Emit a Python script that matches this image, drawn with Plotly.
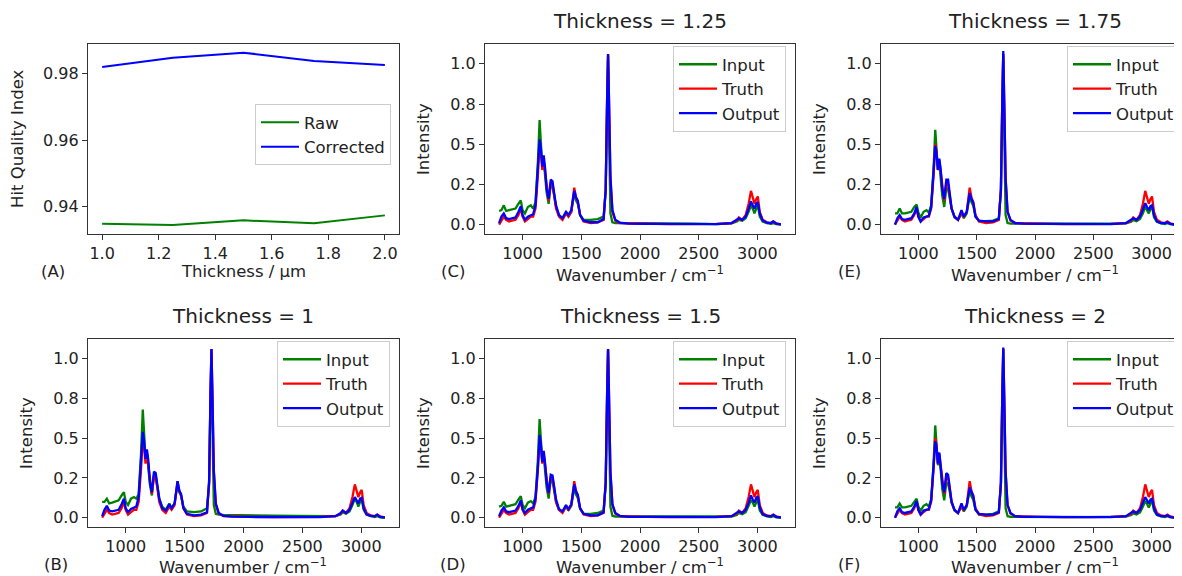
import plotly.graph_objects as go

W, H = 1182, 576
FONT = "DejaVu Sans"

# panel (A): hit quality index vs thickness
thickness = [1.0, 1.25, 1.5, 1.75, 2.0]
hqi_raw = [0.9349, 0.9345, 0.9359, 0.9350, 0.9374]
hqi_corrected = [0.9820, 0.9848, 0.9863, 0.9838, 0.9826]

# spectra
wavenumber = [800, 820, 840, 860, 885, 910, 940, 965, 985, 1000,
              1020, 1045, 1070, 1090, 1110, 1130, 1145, 1155, 1168, 1180,
              1192, 1205, 1222, 1240, 1255, 1268, 1285, 1310, 1340, 1370,
              1390, 1415, 1440, 1455, 1470, 1490, 1520, 1580, 1640, 1690,
              1708, 1720, 1728, 1736, 1748, 1765, 1790, 1830, 1900, 2050,
              2250, 2450, 2650, 2780, 2825, 2842, 2870, 2900, 2925, 2945,
              2960, 2975, 2990, 3003, 3020, 3045, 3080, 3115, 3135, 3160,
              3200]

truth = [0.00, 0.03, 0.05, 0.03, 0.02, 0.025, 0.03, 0.06, 0.10, 0.05,
         0.02, 0.035, 0.05, 0.05, 0.10, 0.30, 0.50, 0.46, 0.34, 0.40,
         0.33, 0.22, 0.15, 0.26, 0.25, 0.19, 0.10, 0.05, 0.03, 0.07,
         0.05, 0.08, 0.23, 0.17, 0.14, 0.06, 0.02, 0.01, 0.015, 0.03,
         0.22, 0.78, 1.06, 0.78, 0.29, 0.08, 0.025, 0.01, 0.008, 0.006,
         0.004, 0.004, 0.005, 0.01, 0.025, 0.045, 0.03, 0.06, 0.13, 0.21,
         0.17, 0.13, 0.16, 0.175, 0.08, 0.03, 0.015, 0.01, 0.02, 0.008,
         0.002]

input_t1 = [0.10, 0.10, 0.12, 0.09, 0.095, 0.10, 0.11, 0.14, 0.16, 0.10,
            0.08, 0.12, 0.13, 0.12, 0.15, 0.40, 0.68, 0.55, 0.37, 0.41,
            0.33, 0.21, 0.14, 0.27, 0.26, 0.20, 0.12, 0.07, 0.05, 0.09,
            0.06, 0.09, 0.21, 0.16, 0.14, 0.07, 0.04, 0.035, 0.04, 0.06,
            0.21, 0.77, 1.05, 0.60, 0.08, 0.025, 0.02, 0.018, 0.018, 0.016,
            0.014, 0.012, 0.008, 0.01, 0.02, 0.035, 0.025, 0.04, 0.08, 0.12,
            0.10, 0.07, 0.10, 0.12, 0.05, 0.02, 0.01, 0.005, 0.01, 0.003,
            0.0]
output_t1 = [0.01, 0.05, 0.075, 0.045, 0.04, 0.045, 0.05, 0.085, 0.12, 0.06,
             0.035, 0.055, 0.065, 0.07, 0.13, 0.33, 0.54, 0.49, 0.37, 0.43,
             0.36, 0.23, 0.16, 0.29, 0.28, 0.21, 0.12, 0.06, 0.045, 0.085,
             0.06, 0.09, 0.23, 0.17, 0.15, 0.06, 0.025, 0.015, 0.02, 0.035,
             0.23, 0.79, 1.06, 0.78, 0.30, 0.09, 0.03, 0.012, 0.007, 0.005,
             0.005, 0.006, 0.004, 0.01, 0.03, 0.045, 0.03, 0.05, 0.095, 0.13,
             0.11, 0.09, 0.12, 0.125, 0.06, 0.02, 0.012, 0.01, 0.02, 0.006,
             0.002]

input_t125 = [0.085, 0.09, 0.12, 0.085, 0.09, 0.095, 0.10, 0.13, 0.15, 0.09,
              0.07, 0.11, 0.12, 0.10, 0.14, 0.38, 0.65, 0.52, 0.36, 0.40,
              0.32, 0.20, 0.13, 0.25, 0.24, 0.19, 0.11, 0.06, 0.04, 0.08,
              0.05, 0.08, 0.20, 0.15, 0.13, 0.06, 0.03, 0.03, 0.035, 0.05,
              0.21, 0.77, 1.05, 0.60, 0.07, 0.015, 0.01, 0.01, 0.01, 0.01,
              0.008, 0.006, 0.004, 0.008, 0.02, 0.03, 0.025, 0.04, 0.08, 0.12,
              0.10, 0.07, 0.10, 0.12, 0.05, 0.02, 0.01, 0.005, 0.01, 0.003,
              0.0]
output_t125 = [0.01, 0.05, 0.07, 0.04, 0.035, 0.04, 0.045, 0.08, 0.115, 0.06,
               0.03, 0.05, 0.06, 0.065, 0.12, 0.32, 0.53, 0.48, 0.36, 0.43,
               0.35, 0.22, 0.16, 0.28, 0.27, 0.20, 0.12, 0.06, 0.04, 0.08,
               0.06, 0.09, 0.21, 0.17, 0.15, 0.06, 0.025, 0.015, 0.015, 0.035,
               0.22, 0.78, 1.06, 0.78, 0.30, 0.09, 0.03, 0.012, 0.006, 0.005,
               0.004, 0.006, 0.004, 0.01, 0.03, 0.04, 0.03, 0.05, 0.10, 0.145,
               0.12, 0.10, 0.13, 0.14, 0.07, 0.025, 0.012, 0.01, 0.02, 0.007,
               0.002]

input_t15 = [0.07, 0.075, 0.10, 0.07, 0.075, 0.08, 0.085, 0.115, 0.135, 0.08,
             0.06, 0.095, 0.105, 0.09, 0.13, 0.36, 0.62, 0.50, 0.35, 0.39,
             0.31, 0.19, 0.12, 0.24, 0.23, 0.18, 0.10, 0.05, 0.035, 0.075,
             0.045, 0.075, 0.19, 0.145, 0.125, 0.055, 0.025, 0.025, 0.03, 0.045,
             0.21, 0.77, 1.05, 0.60, 0.07, 0.012, 0.008, 0.008, 0.008, 0.008,
             0.006, 0.005, 0.004, 0.008, 0.018, 0.03, 0.022, 0.035, 0.075, 0.11,
             0.095, 0.07, 0.095, 0.115, 0.045, 0.018, 0.008, 0.005, 0.01, 0.003,
             0.0]
output_t15 = [0.01, 0.045, 0.065, 0.04, 0.035, 0.04, 0.045, 0.075, 0.11, 0.055,
              0.03, 0.05, 0.06, 0.065, 0.12, 0.31, 0.52, 0.47, 0.35, 0.42,
              0.34, 0.22, 0.155, 0.27, 0.265, 0.195, 0.115, 0.055, 0.04, 0.08,
              0.055, 0.085, 0.21, 0.165, 0.145, 0.06, 0.025, 0.015, 0.015, 0.035,
              0.22, 0.78, 1.06, 0.77, 0.29, 0.085, 0.03, 0.012, 0.006, 0.005,
              0.004, 0.005, 0.004, 0.01, 0.03, 0.04, 0.03, 0.05, 0.095, 0.14,
              0.115, 0.095, 0.125, 0.135, 0.065, 0.022, 0.012, 0.01, 0.018, 0.006,
              0.002]

input_t175 = [0.07, 0.07, 0.10, 0.07, 0.07, 0.075, 0.08, 0.11, 0.126, 0.075,
              0.045, 0.08, 0.09, 0.075, 0.12, 0.34, 0.59, 0.48, 0.34, 0.38,
              0.30, 0.18, 0.11, 0.23, 0.22, 0.17, 0.10, 0.045, 0.03, 0.07,
              0.04, 0.07, 0.18, 0.14, 0.12, 0.05, 0.022, 0.022, 0.025, 0.04,
              0.21, 0.78, 1.06, 0.60, 0.06, 0.01, 0.006, 0.006, 0.006, 0.006,
              0.005, 0.004, 0.004, 0.008, 0.018, 0.03, 0.022, 0.035, 0.07, 0.11,
              0.09, 0.07, 0.095, 0.115, 0.045, 0.018, 0.008, 0.004, 0.01, 0.003,
              0.0]
output_t175 = [0.0, 0.04, 0.06, 0.035, 0.03, 0.035, 0.04, 0.07, 0.11, 0.05,
               0.02, 0.045, 0.05, 0.055, 0.11, 0.30, 0.49, 0.45, 0.34, 0.41,
               0.34, 0.22, 0.16, 0.28, 0.28, 0.20, 0.10, 0.05, 0.03, 0.09,
               0.05, 0.08, 0.196, 0.16, 0.14, 0.05, 0.025, 0.02, 0.02, 0.035,
               0.22, 0.79, 1.08, 0.78, 0.29, 0.08, 0.03, 0.01, 0.006, 0.005,
               0.004, 0.006, 0.004, 0.01, 0.03, 0.04, 0.03, 0.05, 0.095, 0.133,
               0.11, 0.09, 0.115, 0.12, 0.06, 0.02, 0.01, 0.01, 0.015, 0.005,
               0.0]

input_t2 = [0.065, 0.065, 0.09, 0.065, 0.065, 0.07, 0.075, 0.10, 0.12, 0.07,
            0.045, 0.075, 0.085, 0.07, 0.115, 0.33, 0.58, 0.47, 0.33, 0.37,
            0.30, 0.18, 0.11, 0.22, 0.215, 0.17, 0.095, 0.045, 0.03, 0.07,
            0.04, 0.07, 0.175, 0.135, 0.115, 0.05, 0.02, 0.02, 0.025, 0.04,
            0.21, 0.78, 1.06, 0.60, 0.06, 0.01, 0.006, 0.006, 0.005, 0.005,
            0.004, 0.004, 0.003, 0.007, 0.017, 0.028, 0.02, 0.033, 0.07, 0.105,
            0.088, 0.065, 0.09, 0.11, 0.045, 0.017, 0.008, 0.004, 0.01, 0.003,
            0.0]
output_t2 = [0.0, 0.04, 0.06, 0.035, 0.03, 0.035, 0.04, 0.07, 0.105, 0.05,
             0.02, 0.045, 0.05, 0.055, 0.11, 0.30, 0.48, 0.45, 0.34, 0.41,
             0.33, 0.22, 0.16, 0.28, 0.27, 0.20, 0.10, 0.05, 0.03, 0.09,
             0.05, 0.08, 0.19, 0.16, 0.14, 0.05, 0.025, 0.02, 0.02, 0.035,
             0.22, 0.79, 1.07, 0.78, 0.29, 0.08, 0.03, 0.01, 0.006, 0.005,
             0.004, 0.006, 0.004, 0.01, 0.03, 0.04, 0.03, 0.05, 0.095, 0.13,
             0.11, 0.09, 0.115, 0.12, 0.06, 0.02, 0.01, 0.01, 0.015, 0.005,
             0.0]

intensity_ticks = [0.0, 0.25, 0.5, 0.75, 1.0]
intensity_labels = ["0.0", "0.2", "0.5", "0.8", "1.0"]

# pixel boxes of the six axes
cols = [(80, 391), (477, 787), (873, 1181)]
rows = [(36, 226), (331, 519)]

# (letter, col, row, title, input, output)
panels = [
    ("B", 0, 1, "Thickness = 1", input_t1, output_t1),
    ("C", 1, 0, "Thickness = 1.25", input_t125, output_t125),
    ("D", 1, 1, "Thickness = 1.5", input_t15, output_t15),
    ("E", 2, 0, "Thickness = 1.75", input_t175, output_t175),
    ("F", 2, 1, "Thickness = 2", input_t2, output_t2),
]


def px(x):
    return x / W


def py(y):
    return 1 - y / H


axis_style = dict(showline=True, mirror=True, linecolor="#333333", linewidth=1.3,
                  ticks="outside", ticklen=5, tickwidth=1.2, tickcolor="#333333",
                  showgrid=False, zeroline=False,
                  tickfont=dict(family=FONT, size=16, color="#222222"))
legend_style = dict(xanchor="right", yanchor="top", bgcolor="rgba(255,255,255,0.85)",
                    bordercolor="#cccccc", borderwidth=1, itemwidth=38,
                    tracegroupgap=0, font=dict(family=FONT, size=16.5, color="#222222"))

fig = go.Figure()
layout = {}
annotations = []

# panel A
fig.add_trace(go.Scatter(x=thickness, y=hqi_raw, mode="lines", name="Raw",
                         line=dict(color="#008000", width=2), xaxis="x", yaxis="y",
                         legend="legend"))
fig.add_trace(go.Scatter(x=thickness, y=hqi_corrected, mode="lines", name="Corrected",
                         line=dict(color="#0000ff", width=2), xaxis="x", yaxis="y",
                         legend="legend"))
x0, x1 = cols[0]
y0, y1 = rows[0]
layout["xaxis"] = dict(axis_style, domain=[px(x0), px(x1)], anchor="y",
                       range=[0.95, 2.05], tickvals=[1.0, 1.2, 1.4, 1.6, 1.8, 2.0],
                       ticktext=["1.0", "1.2", "1.4", "1.6", "1.8", "2.0"])
layout["yaxis"] = dict(axis_style, domain=[py(y1), py(y0)], anchor="x",
                       range=[0.9318, 0.9889], tickvals=[0.94, 0.96, 0.98],
                       ticktext=["0.94", "0.96", "0.98"])
layout["legend"] = dict(legend_style, x=px(383), y=py(96))
annotations += [
    dict(text="Thickness / µm", x=px((x0 + x1) / 2), y=py(264)),
    dict(text="Hit Quality Index", x=px(9), y=py((y0 + y1) / 2), textangle=-90),
    dict(text="(A)", x=px(45), y=py(263)),
]

for i, (letter, c, r, title, inp, out) in enumerate(panels, start=2):
    xa, ya, lg = f"x{i}", f"y{i}", f"legend{i}"
    for name, vals, color in [("Input", inp, "#008000"), ("Truth", truth, "#ff0000"),
                              ("Output", out, "#0000ff")]:
        fig.add_trace(go.Scatter(x=wavenumber, y=vals, mode="lines", name=name,
                                 line=dict(color=color, width=2.3),
                                 xaxis=xa, yaxis=ya, legend=lg))
    x0, x1 = cols[c]
    y0, y1 = rows[r]
    layout[f"xaxis{i}"] = dict(axis_style, domain=[px(x0), px(x1)], anchor=ya,
                               range=[680, 3320], tickvals=[1000, 1500, 2000, 2500, 3000])
    layout[f"yaxis{i}"] = dict(axis_style, domain=[py(y1), py(y0)], anchor=xa,
                               range=[-0.058, 1.123], tickvals=intensity_ticks,
                               ticktext=intensity_labels)
    layout[lg] = dict(legend_style, x=px(x1 - 9), y=py(y0 + 2))
    label_y = 266 if r == 0 else 558
    annotations += [
        dict(text=title, x=px((x0 + x1) / 2), y=py(y0 - 23), font=dict(size=20)),
        dict(text="Wavenumber / cm<sup>−1</sup>", x=px((x0 + x1) / 2), y=py(label_y)),
        dict(text="Intensity", x=px(x0 - 62), y=py((y0 + y1) / 2), textangle=-90),
        dict(text=f"({letter})", x=px(x0 - 32), y=py(label_y - 2)),
    ]

for a in annotations:
    a.setdefault("font", {})
    a["font"] = dict(dict(family=FONT, size=16.5, color="#222222"), **a["font"])
    a.update(xref="paper", yref="paper", showarrow=False, xanchor="center", yanchor="middle")

fig.update_layout(width=W, height=H, margin=dict(l=0, r=0, t=0, b=0),
                  paper_bgcolor="white", plot_bgcolor="white",
                  annotations=annotations, **layout)

fig.write_html("out.html")
